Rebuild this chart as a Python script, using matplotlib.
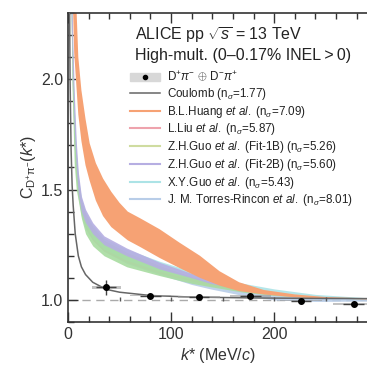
import numpy as np
import matplotlib.pyplot as plt
from matplotlib.patches import Patch, Rectangle
from matplotlib.lines import Line2D
from matplotlib.ticker import MultipleLocator

plt.rcParams['font.family'] = ['Liberation Sans', 'DejaVu Sans']
plt.rcParams['mathtext.fontset'] = 'custom'
plt.rcParams['mathtext.rm'] = 'Liberation Sans'
plt.rcParams['mathtext.it'] = 'Liberation Sans:italic'
plt.rcParams['mathtext.sf'] = 'Liberation Sans'

# data points (k*, C, stat, x half width)
k_data = [37, 80, 127, 177, 226, 277]
c_data = [1.057, 1.020, 1.015, 1.019, 0.997, 0.983]
c_stat = [0.034, 0.005, 0.005, 0.006, 0.006, 0.006]
k_err = [10, 10, 10, 10, 10, 10]
c_syst = [0.006, 0.004, 0.004, 0.004, 0.004, 0.004]
k_syst = [14, 20, 20, 20, 20, 20]
bin_edges = [50, 100, 150, 200, 250]

# Coulomb
k_coul = [1.5, 2, 3, 4, 5, 7, 10, 13, 17, 24, 37, 50, 80, 120, 180, 240, 290]
c_coul = [2.35, 2.0, 1.68, 1.52, 1.43, 1.30, 1.20, 1.15, 1.115, 1.08, 1.048, 1.035,
          1.02, 1.013, 1.009, 1.007, 1.006]

# B.L.Huang
k_hu = [5, 6, 8, 10, 13, 17, 21, 27, 34, 42, 50, 58, 70, 89, 108, 128, 147, 166, 190, 220, 250, 290]
hu_lo = [2.3, 2.12, 1.98, 1.84, 1.72, 1.61, 1.54, 1.45, 1.38, 1.33, 1.30, 1.27, 1.24, 1.19,
         1.145, 1.10, 1.065, 1.04, 1.025, 1.012, 1.006, 1.003]
hu_hi = [2.7, 2.55, 2.35, 2.1, 1.95, 1.82, 1.71, 1.62, 1.55, 1.49, 1.44, 1.40, 1.37, 1.32,
         1.26, 1.20, 1.13, 1.08, 1.045, 1.025, 1.013, 1.007]

# common k grid for the other models
k_m = [3, 4, 6, 8, 10, 13, 17, 24, 35, 57, 89, 120, 138, 170, 200, 240, 290]
# Z.H.Guo Fit-2B
g2_lo = [2.35, 2.1, 1.78, 1.6, 1.48, 1.40, 1.35, 1.30, 1.25, 1.20, 1.14, 1.10, 1.075,
         1.045, 1.025, 1.012, 1.005]
g2_hi = [2.6, 2.3, 1.95, 1.72, 1.58, 1.47, 1.41, 1.35, 1.29, 1.235, 1.17, 1.12, 1.09,
         1.055, 1.03, 1.015, 1.006]
# Z.H.Guo Fit-1B
g1_lo = [2.3, 1.95, 1.62, 1.5, 1.45, 1.37, 1.3, 1.245, 1.2, 1.15, 1.11, 1.075, 1.06,
         1.035, 1.02, 1.01, 1.004]
g1_hi = [2.5, 2.2, 1.85, 1.66, 1.55, 1.45, 1.39, 1.33, 1.27, 1.215, 1.155, 1.105, 1.08,
         1.048, 1.027, 1.013, 1.005]
# L.Liu
li_lo = [2.3, 2.0, 1.7, 1.55, 1.47, 1.39, 1.33, 1.27, 1.22, 1.17, 1.12, 1.085, 1.065,
         1.04, 1.022, 1.011, 1.004]
li_hi = [2.45, 2.15, 1.8, 1.62, 1.52, 1.43, 1.37, 1.31, 1.25, 1.2, 1.145, 1.1, 1.078,
         1.046, 1.026, 1.012, 1.005]
# X.Y.Guo
xy_lo = [2.3, 2.0, 1.72, 1.56, 1.48, 1.40, 1.34, 1.28, 1.23, 1.18, 1.13, 1.095, 1.075,
         1.05, 1.03, 1.015, 1.006]
xy_hi = [2.5, 2.2, 1.88, 1.68, 1.56, 1.46, 1.40, 1.34, 1.28, 1.23, 1.175, 1.13, 1.105,
         1.075, 1.05, 1.025, 1.01]
# J. M. Torres-Rincon
tr_lo = [2.3, 2.0, 1.7, 1.55, 1.46, 1.38, 1.32, 1.27, 1.22, 1.165, 1.115, 1.07, 1.05,
         1.02, 1.0, 0.993, 0.995]
tr_hi = [2.5, 2.2, 1.85, 1.66, 1.55, 1.45, 1.39, 1.33, 1.27, 1.215, 1.155, 1.105, 1.08,
         1.05, 1.03, 1.013, 1.004]

fig = plt.figure(figsize=(3.67, 3.66), dpi=100)
ax = fig.add_axes([68 / 367, 1 - 322 / 366, 1 - 68 / 367, 309 / 366])

c_or = '#f6a274'
c_pu = '#b6aee2'
c_gr = '#a8dca0'
c_cy = '#ace3e6'
c_bl = '#b8cde8'
c_pk = '#eea3ad'

ax.axhline(1.0, color='#aaaaaa', ls=(0, (6, 4)), lw=1.0, zorder=1)

ax.fill_between(k_m, tr_lo, tr_hi, color=c_bl, lw=0, alpha=0.9, zorder=2)
ax.fill_between(k_m, li_lo, li_hi, color=c_pk, lw=0, alpha=0.7, zorder=2)
ax.fill_between(k_m, xy_lo, xy_hi, color=c_cy, lw=0, alpha=0.9, zorder=2)
ax.fill_between(k_m, g1_lo, g1_hi, color=c_gr, lw=0, alpha=0.9, zorder=2)
ax.fill_between(k_m, g2_lo, g2_hi, color=c_pu, lw=0, alpha=0.9, zorder=2)
ax.fill_between(k_hu, hu_lo, hu_hi, color=c_or, lw=0, alpha=1.0, zorder=2)

ax.plot(k_coul, c_coul, color='#666666', lw=1.1, zorder=3)

for k, c, dk, dc in zip(k_data, c_data, k_syst, c_syst):
    ax.add_patch(Rectangle((k - dk, c - dc), 2 * dk, 2 * dc, color='#9a9a9a',
                           alpha=0.6, lw=0, zorder=4))
ax.vlines(bin_edges, 0.995, 1.012, color='#555555', lw=1.0, zorder=4)
ax.errorbar(k_data, c_data, yerr=c_stat, xerr=k_err, fmt='o', color='black', ms=4,
            ecolor='#444444', elinewidth=1.0, capsize=0, zorder=5)

ax.set_xlim(0, 290)
ax.set_ylim(0.9, 2.3)
ax.xaxis.set_major_locator(MultipleLocator(100))
ax.xaxis.set_minor_locator(MultipleLocator(20))
ax.yaxis.set_major_locator(MultipleLocator(0.5))
ax.yaxis.set_minor_locator(MultipleLocator(0.1))
ax.tick_params(which='both', direction='in', top=True, right=False, labelsize=11.5,
               color='#333333', labelcolor='#333333')
ax.tick_params(which='major', length=7, width=1)
ax.tick_params(which='minor', length=4, width=1)
for s in ['left', 'bottom', 'top']:
    ax.spines[s].set_linewidth(1.2)
    ax.spines[s].set_color('#333333')
ax.spines['right'].set_visible(False)

ax.set_xlabel(r'$k$* (MeV/$c$)', fontsize=11.5, color='#333333', labelpad=3)
ax.set_ylabel(r'C$_{\mathrm{D^{+}\pi^{-}}}$($k$*)', fontsize=11.5, color='#333333',
              labelpad=2)

ax.text(0.224, 0.93, r'ALICE pp $\sqrt{s}$ = 13 TeV', transform=ax.transAxes,
        fontsize=11.5, color='#222222', va='center')
ax.text(0.224, 0.864, 'High-mult. (0\u20130.17% INEL\u2009>\u20090)', transform=ax.transAxes,
        fontsize=11.5, color='#222222', va='center')

handles = [
    (Patch(color='#d8d8d8'), Line2D([], [], marker='o', color='black', ms=3, ls='')),
    Line2D([], [], color='#666666', lw=1.1),
    Line2D([], [], color=c_or, lw=1.5),
    Line2D([], [], color=c_pk, lw=1.5),
    Line2D([], [], color='#cfdca0', lw=1.5),
    Line2D([], [], color=c_pu, lw=1.5),
    Line2D([], [], color=c_cy, lw=1.5),
    Line2D([], [], color=c_bl, lw=1.5),
]
labels = [
    r'D$^{+}\pi^{-}$ $\oplus$ D$^{-}\pi^{+}$',
    r'Coulomb (n$_{\sigma}$=1.77)',
    r'B.L.Huang $et\ al.$ (n$_{\sigma}$=7.09)',
    r'L.Liu $et\ al.$ (n$_{\sigma}$=5.87)',
    r'Z.H.Guo $et\ al.$ (Fit-1B) (n$_{\sigma}$=5.26)',
    r'Z.H.Guo $et\ al.$ (Fit-2B) (n$_{\sigma}$=5.60)',
    r'X.Y.Guo $et\ al.$ (n$_{\sigma}$=5.43)',
    r'J. M. Torres-Rincon $et\ al.$ (n$_{\sigma}$=8.01)',
]
leg = ax.legend(handles, labels, loc='upper left', bbox_to_anchor=(130 / 367, 1 - 70 / 366),
                bbox_transform=fig.transFigure, frameon=False, fontsize=8.4,
                handlelength=2.6, handletextpad=0.6, labelspacing=0.15, borderpad=0,
                borderaxespad=0)
for t in leg.get_texts():
    t.set_color('#222222')

fig.savefig('out.png', dpi=100)
